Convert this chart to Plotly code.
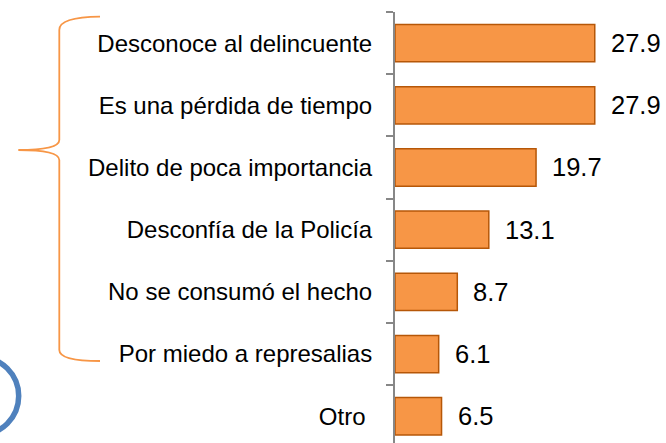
import plotly.graph_objects as go

categories = ["Desconoce al delincuente", "Es una pérdida de tiempo", "Delito de poca importancia",
              "Desconfía de la Policía", "No se consumó el hecho", "Por miedo a represalias", "Otro\u00a0"]
values = [27.9, 27.9, 19.7, 13.1, 8.7, 6.1, 6.5]
value_labels = ["27.9", "27.9", "19.7", "13.1", "8.7", "6.1", "6.5"]

W, H = 666, 443
OFF = 0  # page body margin removed via post_script
ML, MR, MT, MB = 395, 0, 12, 0
PW, PH = W - ML - MR, H - MT - MB

def px(x):
    return (x - OFF - ML) / PW

def py(y):
    return 1 - (y - OFF - MT) / PH

FONT = "Liberation Sans, Arial, sans-serif"

fig = go.Figure(go.Bar(
    x=values, y=categories, orientation="h",
    marker=dict(color="#F79646", line=dict(color="#B65708", width=1.5)),
    hoverinfo="skip",
))

for v, c, t in zip(values, categories, value_labels):
    fig.add_annotation(x=v, y=c, text=t, showarrow=False, xanchor="left", yanchor="middle",
                       xshift=14, font=dict(size=25.5, color="#000000", family=FONT))

# curly bracket
pts = [(100, 16.7), (59.3, 17), (59.3, 30), (59.3, 140), (59.3, 150), (18.3, 150),
       (59.3, 150), (59.3, 160), (59.3, 350), (59.3, 361), (100, 361)]
def P(p):
    return f"{px(p[0]):.5f},{py(p[1]):.5f}"
path = (f"M {P(pts[0])} Q {P(pts[1])} {P(pts[2])} L {P(pts[3])} Q {P(pts[4])} {P(pts[5])} "
        f"Q {P(pts[6])} {P(pts[7])} L {P(pts[8])} Q {P(pts[9])} {P(pts[10])}")
fig.add_shape(type="path", path=path, xref="paper", yref="paper",
              line=dict(color="#F79646", width=1.8), layer="above")

# blue circle partially visible
fig.add_shape(type="circle", xref="paper", yref="paper",
              x0=px(-20.3 - 39), x1=px(-20.3 + 39), y0=py(396 + 39), y1=py(396 - 39),
              line=dict(color="#4F81BD", width=5.5), layer="above")

fig.update_layout(
    width=W, height=H,
    margin=dict(l=ML, r=MR, t=MT, b=MB, pad=0),
    paper_bgcolor="white", plot_bgcolor="white",
    showlegend=False, bargap=0.4,
    font=dict(family=FONT, size=24, color="#000000"),
    xaxis=dict(range=[0, PW / 7.16], visible=False, fixedrange=True),
    yaxis=dict(type="category", range=[6.43, -0.5], showline=True, linecolor="#878787", linewidth=2,
               ticks="outside", ticklen=7, tickcolor="#878787", tickwidth=2, tickson="boundaries",
               ticklabelstandoff=16,
               showgrid=False, zeroline=False, tickfont=dict(size=24, color="#000000", family=FONT),
               fixedrange=True),
)

fig.write_html("out.html", config={"displayModeBar": False},
               post_script="document.body.style.margin='0';document.body.style.overflow='hidden';")
